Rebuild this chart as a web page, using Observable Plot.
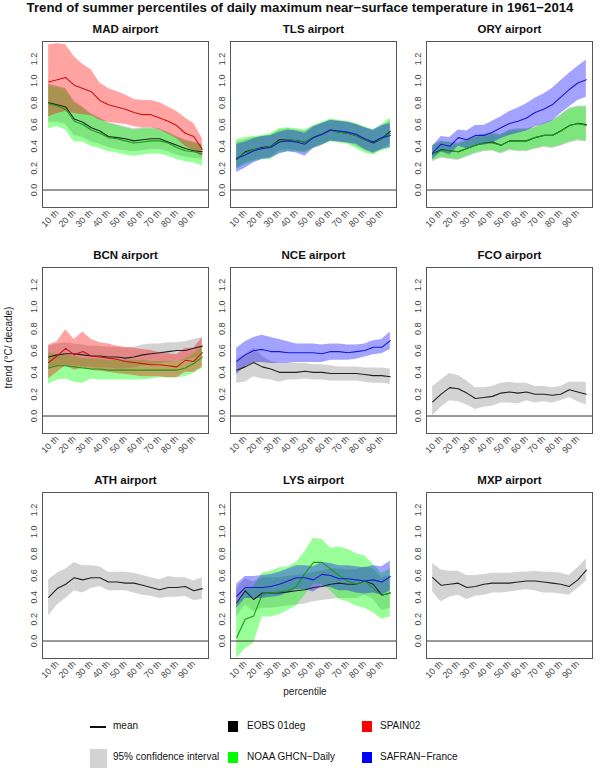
<!DOCTYPE html>
<html><head><meta charset="utf-8">
<script src="https://cdn.jsdelivr.net/npm/d3@7"></script>
<script src="https://cdn.jsdelivr.net/npm/@observablehq/plot@0.6"></script>
<style>
body{margin:0;background:#fff;font-family:"Liberation Sans",Arial,sans-serif;}
#root{position:relative;width:600px;height:768px;overflow:hidden;background:#fff;}
.abs{position:absolute;white-space:nowrap;}
</style></head><body><div id="root"></div>
<script>
const percentiles = [5,10,15,20,25,30,35,40,45,50,55,60,65,70,75,80,85,90,95];
const tickValues = [10,20,30,40,50,60,70,80,90];
const tickLabels = ["10 th","20 th","30 th","40 th","50 th","60 th","70 th","80 th","90 th"];
const yTicks = [0,0.2,0.4,0.6,0.8,1.0,1.2];
const airports = ["MAD airport","TLS airport","ORY airport","BCN airport","NCE airport","FCO airport","ATH airport","LYS airport","MXP airport"];
const datasets = ["EOBS 01deg","NOAA GHCN\u2212Daily","SPAIN02","SAFRAN\u2212France"];

// MAD
const MAD_EOBS_mean = [0.80,0.78,0.76,0.65,0.62,0.57,0.54,0.49,0.48,0.47,0.45,0.46,0.47,0.47,0.44,0.41,0.38,0.36,0.35];
const MAD_EOBS_lo   = [0.62,0.62,0.60,0.50,0.48,0.44,0.42,0.39,0.37,0.36,0.35,0.36,0.37,0.37,0.35,0.32,0.30,0.29,0.28];
const MAD_EOBS_hi   = [0.97,0.95,0.93,0.82,0.76,0.70,0.66,0.62,0.60,0.58,0.56,0.57,0.57,0.56,0.53,0.49,0.46,0.44,0.42];
const MAD_NOAA_mean = [0.79,0.77,0.74,0.63,0.60,0.55,0.52,0.48,0.47,0.45,0.43,0.44,0.45,0.45,0.43,0.39,0.36,0.35,0.33];
const MAD_NOAA_lo   = [0.56,0.58,0.55,0.44,0.44,0.40,0.38,0.35,0.34,0.32,0.31,0.32,0.33,0.33,0.31,0.28,0.26,0.25,0.22];
const MAD_NOAA_hi   = [0.96,0.94,0.92,0.80,0.75,0.69,0.65,0.61,0.59,0.57,0.55,0.56,0.56,0.55,0.52,0.48,0.45,0.43,0.41];
const MAD_SPAIN_mean= [0.99,1.01,1.03,0.96,0.93,0.90,0.82,0.78,0.76,0.74,0.71,0.69,0.69,0.66,0.63,0.59,0.52,0.49,0.37];
const MAD_SPAIN_lo  = [0.67,0.70,0.72,0.70,0.69,0.68,0.64,0.62,0.61,0.60,0.58,0.57,0.57,0.55,0.51,0.47,0.40,0.36,0.30];
const MAD_SPAIN_hi  = [1.33,1.34,1.33,1.22,1.15,1.10,0.98,0.93,0.90,0.87,0.83,0.82,0.82,0.80,0.76,0.72,0.66,0.61,0.47];
// TLS
const TLS_EOBS_mean = [0.28,0.35,0.37,0.39,0.40,0.46,0.46,0.45,0.44,0.48,0.51,0.55,0.53,0.52,0.50,0.46,0.43,0.47,0.54];
const TLS_EOBS_lo   = [0.20,0.25,0.27,0.29,0.30,0.36,0.37,0.36,0.35,0.39,0.42,0.45,0.44,0.43,0.40,0.36,0.33,0.37,0.42];
const TLS_EOBS_hi   = [0.44,0.46,0.48,0.49,0.50,0.55,0.56,0.55,0.54,0.58,0.61,0.64,0.63,0.62,0.60,0.57,0.54,0.58,0.64];
const TLS_NOAA_mean = [0.29,0.34,0.37,0.38,0.40,0.45,0.46,0.45,0.44,0.48,0.51,0.55,0.53,0.52,0.50,0.46,0.44,0.47,0.52];
const TLS_NOAA_lo   = [0.19,0.23,0.26,0.28,0.28,0.34,0.35,0.35,0.34,0.38,0.41,0.44,0.43,0.42,0.38,0.34,0.32,0.36,0.38];
const TLS_NOAA_hi   = [0.46,0.48,0.49,0.50,0.52,0.56,0.57,0.56,0.55,0.59,0.62,0.65,0.64,0.63,0.61,0.58,0.55,0.60,0.66];
const TLS_SAFRAN_mean=[0.29,0.32,0.36,0.38,0.39,0.44,0.45,0.44,0.42,0.48,0.51,0.55,0.54,0.53,0.51,0.47,0.44,0.48,0.50];
const TLS_SAFRAN_lo = [0.16,0.20,0.25,0.28,0.29,0.33,0.35,0.34,0.31,0.38,0.41,0.45,0.44,0.43,0.42,0.37,0.34,0.37,0.39];
const TLS_SAFRAN_hi = [0.42,0.44,0.47,0.49,0.50,0.53,0.55,0.54,0.52,0.58,0.61,0.64,0.63,0.62,0.60,0.57,0.55,0.59,0.61];
// ORY
const ORY_EOBS_mean = [0.33,0.37,0.36,0.35,0.38,0.41,0.43,0.44,0.41,0.45,0.45,0.45,0.48,0.50,0.50,0.54,0.59,0.61,0.60];
const ORY_EOBS_lo   = [0.26,0.29,0.28,0.27,0.30,0.33,0.35,0.36,0.33,0.36,0.35,0.35,0.37,0.39,0.38,0.40,0.43,0.45,0.44];
const ORY_EOBS_hi   = [0.41,0.45,0.44,0.43,0.46,0.49,0.51,0.52,0.51,0.55,0.56,0.56,0.58,0.61,0.64,0.69,0.75,0.77,0.77];
const ORY_NOAA_mean = [0.33,0.36,0.36,0.35,0.38,0.41,0.43,0.43,0.41,0.45,0.45,0.45,0.48,0.50,0.50,0.54,0.59,0.61,0.59];
const ORY_NOAA_lo   = [0.27,0.30,0.29,0.28,0.31,0.34,0.36,0.36,0.34,0.37,0.36,0.36,0.38,0.40,0.39,0.41,0.44,0.46,0.45];
const ORY_NOAA_hi   = [0.40,0.44,0.43,0.42,0.45,0.48,0.50,0.51,0.50,0.54,0.55,0.55,0.57,0.60,0.63,0.68,0.74,0.76,0.76];
const ORY_SAFRAN_mean=[0.34,0.42,0.40,0.48,0.46,0.50,0.50,0.53,0.57,0.61,0.63,0.66,0.71,0.74,0.78,0.85,0.92,0.98,1.01];
const ORY_SAFRAN_lo = [0.28,0.35,0.32,0.40,0.38,0.41,0.41,0.43,0.47,0.50,0.52,0.54,0.58,0.60,0.63,0.70,0.76,0.82,0.85];
const ORY_SAFRAN_hi = [0.40,0.49,0.48,0.55,0.54,0.59,0.59,0.63,0.67,0.72,0.75,0.79,0.84,0.88,0.93,1.00,1.07,1.13,1.19];
// BCN
const BCN_EOBS_mean = [0.54,0.56,0.57,0.57,0.56,0.55,0.55,0.54,0.54,0.53,0.54,0.56,0.57,0.58,0.59,0.60,0.60,0.62,0.64];
const BCN_EOBS_lo   = [0.43,0.45,0.46,0.46,0.45,0.45,0.44,0.44,0.43,0.43,0.44,0.46,0.47,0.48,0.49,0.50,0.51,0.53,0.55];
const BCN_EOBS_hi   = [0.64,0.66,0.67,0.66,0.65,0.64,0.64,0.63,0.63,0.62,0.63,0.65,0.66,0.66,0.67,0.67,0.68,0.70,0.72];
const BCN_NOAA_mean = [0.44,0.46,0.46,0.45,0.44,0.43,0.43,0.42,0.42,0.42,0.42,0.42,0.42,0.42,0.42,0.42,0.44,0.48,0.54];
const BCN_NOAA_lo   = [0.29,0.33,0.34,0.31,0.30,0.34,0.33,0.33,0.33,0.33,0.33,0.33,0.34,0.35,0.35,0.35,0.36,0.39,0.44];
const BCN_NOAA_hi   = [0.58,0.56,0.56,0.54,0.53,0.52,0.52,0.51,0.51,0.51,0.51,0.51,0.50,0.50,0.50,0.50,0.52,0.57,0.63];
const BCN_SPAIN_mean= [0.49,0.55,0.62,0.56,0.59,0.55,0.54,0.53,0.52,0.50,0.49,0.48,0.47,0.47,0.46,0.45,0.51,0.50,0.58];
const BCN_SPAIN_lo  = [0.34,0.40,0.46,0.42,0.44,0.42,0.41,0.40,0.39,0.38,0.37,0.36,0.36,0.36,0.35,0.35,0.40,0.40,0.45];
const BCN_SPAIN_hi  = [0.65,0.68,0.79,0.70,0.77,0.70,0.67,0.66,0.64,0.63,0.62,0.61,0.60,0.58,0.57,0.56,0.62,0.62,0.72];
// NCE
const NCE_EOBS_mean = [0.42,0.45,0.49,0.45,0.43,0.40,0.40,0.40,0.41,0.40,0.40,0.39,0.39,0.39,0.39,0.38,0.37,0.37,0.36];
const NCE_EOBS_lo   = [0.30,0.31,0.36,0.34,0.33,0.31,0.33,0.33,0.34,0.33,0.33,0.32,0.32,0.32,0.32,0.31,0.30,0.30,0.29];
const NCE_EOBS_hi   = [0.52,0.56,0.62,0.55,0.50,0.48,0.48,0.48,0.48,0.47,0.47,0.46,0.45,0.45,0.45,0.44,0.44,0.44,0.43];
const NCE_SAFRAN_mean=[0.50,0.56,0.60,0.61,0.59,0.59,0.58,0.58,0.58,0.58,0.57,0.59,0.59,0.58,0.59,0.60,0.63,0.63,0.69];
const NCE_SAFRAN_lo = [0.38,0.45,0.49,0.49,0.48,0.48,0.48,0.49,0.49,0.49,0.49,0.51,0.51,0.51,0.52,0.54,0.56,0.57,0.61];
const NCE_SAFRAN_hi = [0.62,0.68,0.72,0.74,0.72,0.70,0.68,0.66,0.66,0.66,0.65,0.66,0.66,0.65,0.65,0.66,0.69,0.70,0.77];
// FCO
const FCO_EOBS_mean = [0.13,0.20,0.26,0.25,0.21,0.16,0.17,0.18,0.21,0.22,0.21,0.22,0.20,0.20,0.19,0.20,0.24,0.22,0.20];
const FCO_EOBS_lo   = [0.00,0.08,0.14,0.13,0.10,0.06,0.08,0.09,0.12,0.12,0.11,0.14,0.12,0.13,0.12,0.14,0.17,0.13,0.10];
const FCO_EOBS_hi   = [0.27,0.33,0.39,0.37,0.32,0.26,0.26,0.27,0.30,0.31,0.30,0.30,0.27,0.27,0.26,0.27,0.31,0.31,0.31];
// ATH
const ATH_EOBS_mean = [0.40,0.48,0.52,0.58,0.56,0.58,0.58,0.54,0.54,0.53,0.53,0.51,0.49,0.47,0.49,0.49,0.50,0.46,0.48];
const ATH_EOBS_lo   = [0.23,0.33,0.39,0.46,0.44,0.48,0.50,0.46,0.46,0.46,0.44,0.42,0.41,0.39,0.40,0.40,0.41,0.37,0.38];
const ATH_EOBS_hi   = [0.56,0.62,0.66,0.72,0.69,0.69,0.68,0.63,0.63,0.63,0.62,0.60,0.58,0.56,0.59,0.58,0.58,0.55,0.58];
// LYS
const LYS_EOBS_mean = [0.35,0.46,0.38,0.44,0.44,0.44,0.45,0.46,0.47,0.49,0.50,0.52,0.53,0.52,0.52,0.55,0.52,0.42,0.44];
const LYS_EOBS_lo   = [0.22,0.33,0.27,0.30,0.30,0.31,0.32,0.33,0.34,0.36,0.37,0.38,0.39,0.39,0.39,0.42,0.38,0.28,0.30];
const LYS_EOBS_hi   = [0.48,0.57,0.54,0.58,0.58,0.58,0.59,0.60,0.61,0.63,0.64,0.66,0.66,0.65,0.65,0.68,0.66,0.58,0.60];
const LYS_NOAA_mean = [0.03,0.20,0.23,0.43,0.44,0.45,0.46,0.50,0.62,0.72,0.72,0.66,0.60,0.55,0.52,0.55,0.48,0.42,0.44];
const LYS_NOAA_lo   = [-0.16,-0.07,-0.02,0.22,0.22,0.24,0.28,0.32,0.42,0.52,0.52,0.46,0.38,0.36,0.32,0.30,0.26,0.20,0.22];
const LYS_NOAA_hi   = [0.33,0.47,0.50,0.62,0.64,0.67,0.68,0.72,0.82,0.94,0.93,0.85,0.86,0.84,0.80,0.78,0.70,0.62,0.66];
const LYS_SAFRAN_mean=[0.41,0.49,0.49,0.49,0.50,0.52,0.55,0.58,0.58,0.56,0.61,0.60,0.57,0.57,0.56,0.55,0.56,0.54,0.59];
const LYS_SAFRAN_lo = [0.30,0.39,0.39,0.39,0.40,0.41,0.44,0.47,0.47,0.45,0.50,0.49,0.46,0.46,0.44,0.43,0.44,0.42,0.46];
const LYS_SAFRAN_hi = [0.52,0.59,0.59,0.60,0.61,0.63,0.66,0.69,0.69,0.68,0.72,0.71,0.69,0.69,0.68,0.67,0.69,0.68,0.73];
// MXP
const MXP_EOBS_mean = [0.58,0.51,0.52,0.53,0.49,0.50,0.52,0.53,0.53,0.53,0.54,0.55,0.55,0.54,0.53,0.52,0.50,0.56,0.65];
const MXP_EOBS_lo   = [0.45,0.36,0.40,0.42,0.38,0.41,0.42,0.44,0.44,0.45,0.46,0.47,0.46,0.44,0.44,0.43,0.42,0.48,0.55];
const MXP_EOBS_hi   = [0.71,0.65,0.64,0.64,0.60,0.60,0.61,0.62,0.62,0.62,0.63,0.63,0.64,0.63,0.63,0.62,0.60,0.67,0.75];

const bandColors = {"EOBS 01deg":"#8c8c8c","NOAA GHCN\u2212Daily":"#00ff00","SPAIN02":"#ff0000","SAFRAN\u2212France":"#0000ff"};
const lineColors = {"EOBS 01deg":"#222222","NOAA GHCN\u2212Daily":"#1a9a1a","SPAIN02":"#c81414","SAFRAN\u2212France":"#1a1ad0"};
const bandOpacity = {"EOBS 01deg":0.38,"NOAA GHCN\u2212Daily":0.4,"SPAIN02":0.36,"SAFRAN\u2212France":0.36};

const panels = [
  {title: airports[0], series: [[datasets[0],MAD_EOBS_mean,MAD_EOBS_lo,MAD_EOBS_hi],[datasets[1],MAD_NOAA_mean,MAD_NOAA_lo,MAD_NOAA_hi],[datasets[2],MAD_SPAIN_mean,MAD_SPAIN_lo,MAD_SPAIN_hi]]},
  {title: airports[1], series: [[datasets[0],TLS_EOBS_mean,TLS_EOBS_lo,TLS_EOBS_hi],[datasets[1],TLS_NOAA_mean,TLS_NOAA_lo,TLS_NOAA_hi],[datasets[3],TLS_SAFRAN_mean,TLS_SAFRAN_lo,TLS_SAFRAN_hi]]},
  {title: airports[2], series: [[datasets[0],ORY_EOBS_mean,ORY_EOBS_lo,ORY_EOBS_hi],[datasets[1],ORY_NOAA_mean,ORY_NOAA_lo,ORY_NOAA_hi],[datasets[3],ORY_SAFRAN_mean,ORY_SAFRAN_lo,ORY_SAFRAN_hi]]},
  {title: airports[3], series: [[datasets[0],BCN_EOBS_mean,BCN_EOBS_lo,BCN_EOBS_hi],[datasets[1],BCN_NOAA_mean,BCN_NOAA_lo,BCN_NOAA_hi],[datasets[2],BCN_SPAIN_mean,BCN_SPAIN_lo,BCN_SPAIN_hi]]},
  {title: airports[4], series: [[datasets[0],NCE_EOBS_mean,NCE_EOBS_lo,NCE_EOBS_hi],[datasets[3],NCE_SAFRAN_mean,NCE_SAFRAN_lo,NCE_SAFRAN_hi]]},
  {title: airports[5], series: [[datasets[0],FCO_EOBS_mean,FCO_EOBS_lo,FCO_EOBS_hi]]},
  {title: airports[6], series: [[datasets[0],ATH_EOBS_mean,ATH_EOBS_lo,ATH_EOBS_hi]]},
  {title: airports[7], series: [[datasets[0],LYS_EOBS_mean,LYS_EOBS_lo,LYS_EOBS_hi],[datasets[1],LYS_NOAA_mean,LYS_NOAA_lo,LYS_NOAA_hi],[datasets[3],LYS_SAFRAN_mean,LYS_SAFRAN_lo,LYS_SAFRAN_hi]]},
  {title: airports[8], series: [[datasets[0],MXP_EOBS_mean,MXP_EOBS_lo,MXP_EOBS_hi]]}
];

const FONT = "'Liberation Sans', Arial, Helvetica, sans-serif";
const root = document.getElementById("root");
const frameLefts = [42, 230, 426];
const frameTops = [41, 267, 492];
const frameW = 166, frameH = 166;
const mL = 30, mR = 6, mT = 26, mB = 36;

function addText(txt, css) {
  const d = document.createElement("div");
  d.className = "abs";
  d.textContent = txt;
  Object.assign(d.style, css);
  root.appendChild(d);
  return d;
}

panels.forEach((panel, k) => {
  const col = k % 3, row = Math.floor(k / 3);
  const marks = [];
  const tables = panel.series.map(([key, mean, lo, hi]) =>
    ({key, rows: percentiles.map((p, i) => ({p, mean: mean[i], lo: lo[i], hi: hi[i]}))}));
  tables.forEach(t => marks.push(Plot.areaY(t.rows, {x: "p", y1: "lo", y2: "hi", fill: bandColors[t.key], fillOpacity: bandOpacity[t.key], clip: true})));
  marks.push(Plot.ruleY([0], {stroke: "#333", strokeWidth: 1}));
  tables.forEach(t => marks.push(Plot.lineY(t.rows, {x: "p", y: "mean", stroke: lineColors[t.key], strokeWidth: 1.1, clip: true})));
  marks.push(Plot.frame({stroke: "#555", strokeWidth: 1}));
  marks.push(Plot.axisX({ticks: tickValues, tickFormat: d => tickLabels[tickValues.indexOf(d)], tickRotate: -45, tickSize: 0, tickPadding: 4, label: null, fontSize: 9, fill: "#444"}));
  marks.push(Plot.axisY({ticks: yTicks, tickFormat: d3.format(".1f"), tickRotate: -90, tickSize: 0, tickPadding: 6, label: null, fontSize: 9, fill: "#444"}));
  marks.push(Plot.text([panel.title], {frameAnchor: "top", lineAnchor: "middle", dy: -12, fontWeight: "bold", fontSize: 11.5, fill: "#111"}));
  const svg = Plot.plot({
    width: mL + frameW + mR, height: mT + frameH + mB,
    marginLeft: mL, marginRight: mR, marginTop: mT, marginBottom: mB,
    x: {domain: [1.4, 98.6]},
    y: {domain: [-0.16, 1.36]},
    style: {fontFamily: FONT, background: "transparent", overflow: "visible", maxWidth: "none"},
    marks
  });
  svg.style.position = "absolute";
  svg.style.left = (frameLefts[col] - mL) + "px";
  svg.style.top = (frameTops[row] - mT) + "px";
  root.appendChild(svg);
});

// Title and axis labels
addText("Trend of summer percentiles of daily maximum near\u2212surface temperature in 1961\u22122014",
  {left: "0px", width: "600px", textAlign: "center", top: "0px", fontSize: "13.2px", fontWeight: "bold", fontFamily: FONT, color: "#111"});
addText("percentile", {left: "265px", width: "80px", textAlign: "center", top: "686px", fontSize: "10px", fontFamily: FONT, color: "#222"});
addText("trend (\u00b0C/ decade)", {left: "-42px", width: "100px", textAlign: "center", top: "342px", fontSize: "10px", fontFamily: FONT, color: "#222", transform: "rotate(-90deg)"});

// Legend
function box(left, top, w, h, color) {
  const d = document.createElement("div");
  d.className = "abs";
  Object.assign(d.style, {left: left + "px", top: top + "px", width: w + "px", height: h + "px", background: color});
  root.appendChild(d);
}
const legendText = {fontSize: "10px", fontFamily: FONT, color: "#111"};
box(90, 726, 16, 1.5, "#111");
addText("mean", Object.assign({left: "113px", top: "720px"}, legendText));
box(228, 721, 10, 11, "#000");
addText(datasets[0], Object.assign({left: "247px", top: "720px"}, legendText));
box(362, 721, 10, 11, "#ff0000");
addText(datasets[2], Object.assign({left: "380px", top: "720px"}, legendText));
box(90, 749, 17, 19, "#d3d3d3");
addText("95% confidence interval", Object.assign({left: "113px", top: "751px"}, legendText));
box(228, 752, 10, 11, "#00ff00");
addText(datasets[1], Object.assign({left: "247px", top: "751px"}, legendText));
box(362, 752, 10, 11, "#0000ff");
addText(datasets[3], Object.assign({left: "380px", top: "751px"}, legendText));
</script></body></html>
